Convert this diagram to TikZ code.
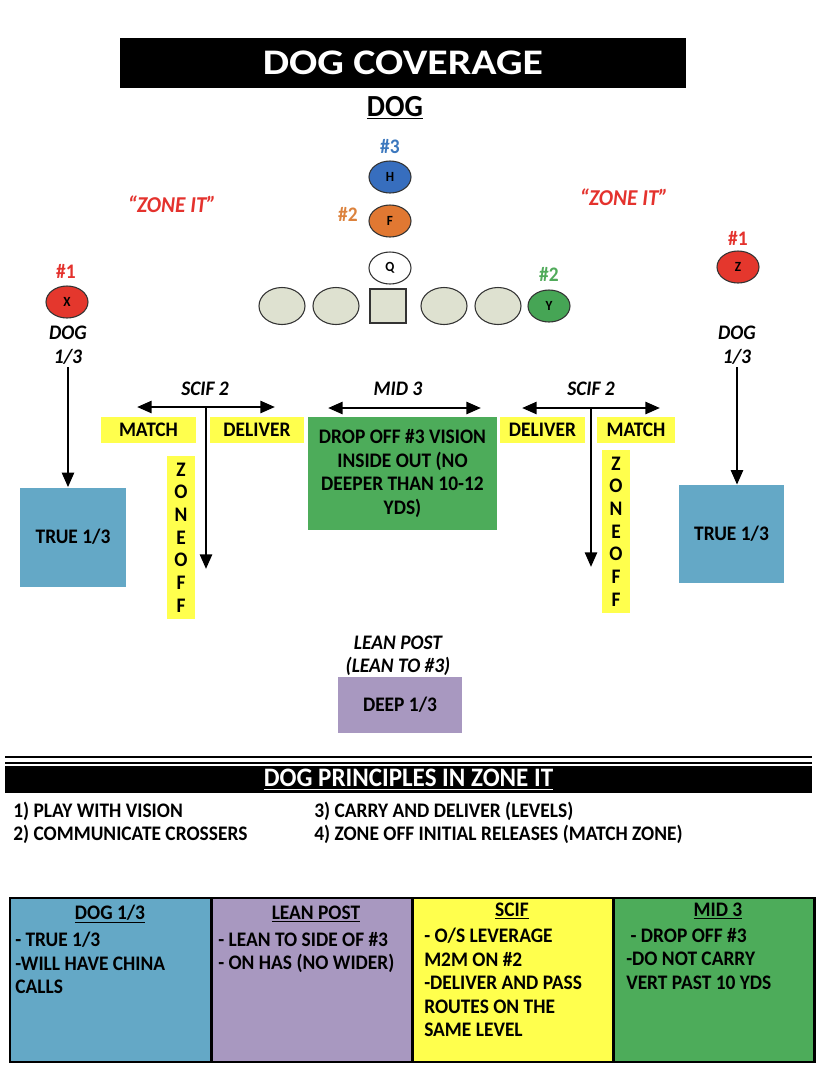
\documentclass[tikz,border=0pt]{standalone}
\usepackage{fontspec}
\setmainfont{Carlito}[FakeStretch=0.94]
\newfontfamily\titlefont{Carlito}[FakeStretch=1.16]
\usetikzlibrary{arrows.meta,shapes.geometric}
\definecolor{boxblue}{RGB}{100,168,198}
\definecolor{boxpurple}{RGB}{168,152,192}
\definecolor{boxyellow}{RGB}{255,255,77}
\definecolor{boxgreen}{RGB}{77,172,90}
\definecolor{pgreen}{RGB}{70,165,85}
\definecolor{pblue}{RGB}{55,110,190}
\definecolor{porange}{RGB}{225,120,50}
\definecolor{pred}{RGB}{228,55,45}
\definecolor{tred}{RGB}{228,50,45}
\definecolor{tblue}{RGB}{60,120,190}
\definecolor{torange}{RGB}{220,130,60}
\definecolor{tgreen}{RGB}{80,170,90}
\definecolor{olfill}{RGB}{222,225,208}
\begin{document}
\begin{tikzpicture}[x=0.75pt,y=-0.75pt,
  txt/.style={font=\bfseries\fontsize{15.5}{17.6}\selectfont, inner sep=0, align=center},
  itl/.style={font=\bfseries\itshape\fontsize{15.5}{17.5}\selectfont, inner sep=0, align=center},
  player/.style={ellipse, draw=black!80, line width=0.8pt, minimum width=42*0.75pt, minimum height=32*0.75pt, inner sep=0, font=\bfseries\fontsize{10.5}{10.5}\selectfont},
  olman/.style={player, fill=olfill, minimum width=46*0.75pt, minimum height=37*0.75pt},
  arr/.style={line width=2pt, -{Triangle[length=11pt,width=9pt]}},
  darr/.style={line width=2pt, {Triangle[length=11pt,width=9pt]}-{Triangle[length=11pt,width=9pt]}},
  ylab/.style={txt, fill=boxyellow, minimum height=26*0.75pt},
  zoneoff/.style={txt, fill=boxyellow, minimum width=28*0.75pt, font=\bfseries\fontsize{15.5}{17}\selectfont},
  card/.style={draw=black, line width=2.2pt, inner sep=0, minimum width=201*0.75pt, minimum height=164*0.75pt},
  cardtxt/.style={font=\bfseries\fontsize{15.5}{17.6}\selectfont, inner sep=0, align=left, anchor=north west}
]
\useasboundingbox (0,0) rectangle (828,1090);
\fill[white] (0,0) rectangle (828,1090);

% title
\node[fill=black, minimum width=566*0.75pt, minimum height=50*0.75pt, inner sep=0,
  text=white, font=\titlefont\bfseries\fontsize{27}{27}\selectfont] (title) at (403,63) {DOG COVERAGE};
\node[font=\bfseries\fontsize{23}{23}\selectfont, inner sep=0] (sub) at (395,108) {\underline{DOG}};

% backfield
\node[player, fill=pblue] (H) at (390,177) {H};
\node[txt, text=tblue] (n3) at (390,147) {\#3};
\node[player, fill=porange] (F) at (390,221) {F};
\node[txt, text=torange] (n2f) at (348,214) {\#2};
\node[player, fill=white] (Q) at (390,268) {Q};

% line
\node[olman] (l1) at (282,306) {};
\node[olman] (l2) at (336,306) {};
\node[draw=black!80, line width=0.8pt, fill=olfill, minimum width=36*0.75pt, minimum height=34*0.75pt, inner sep=0] (C) at (388,306) {};
\node[olman] (r1) at (444,306) {};
\node[olman] (r2) at (498,306) {};
\node[player, fill=pgreen] (Y) at (549,306) {Y};
\node[txt, text=tgreen] (n2y) at (549,274) {\#2};

% receivers
\node[player, fill=pred] (X) at (67,302) {X};
\node[txt, text=tred] (n1x) at (66,271) {\#1};
\node[player, fill=pred] (Z) at (738,267) {Z};
\node[txt, text=tred] (n1z) at (738,238) {\#1};

\node[itl, text=tred, font=\bfseries\itshape\fontsize{17}{17}\selectfont] (zl) at (172,204) {``ZONE IT''};
\node[itl, text=tred, font=\bfseries\itshape\fontsize{17}{17}\selectfont] (zr) at (624,197) {``ZONE IT''};

% dog 1/3
\node[itl, anchor=north] (dogL) at (68,326) {DOG\\1/3};
\node[itl, anchor=north] (dogR) at (737,326) {DOG\\1/3};
\node[txt, fill=boxblue, minimum width=106*0.75pt, minimum height=99*0.75pt] (trueL) at (73,537) {TRUE 1/3};
\node[txt, fill=boxblue, minimum width=105*0.75pt, minimum height=98*0.75pt] (trueR) at (731.5,534) {TRUE 1/3};
\draw[arr] (dogL.south) ++(0,3) coordinate (dLs) (dLs) -- (dLs |- trueL.north);
\draw[arr] (dogR.south) ++(0,3) coordinate (dRs) (dRs) -- (dRs |- trueR.north);

% left SCIF
\node[itl] (scifL) at (205,389) {SCIF 2};
\coordinate (sLa) at (137,407);
\coordinate (sLb) at (275,407);
\coordinate (sLc) at (206,407);
\coordinate (sLd) at (206,569);
\draw[darr] (sLa) -- (sLb);
\draw[arr] (sLc) -- (sLd);
\node[ylab, minimum width=95*0.75pt] (matchL) at (148.5,430) {MATCH};
\node[ylab, minimum width=94*0.75pt] (delivL) at (257,430) {DELIVER};
\node[zoneoff, minimum height=163*0.75pt] (zoL) at (181,537.5) {Z\\O\\N\\E\\O\\F\\F};

% mid 3
\node[itl] (mid) at (398,389) {MID 3};
\coordinate (mA) at (328,408);
\coordinate (mB) at (481,408);
\draw[darr] (mA) -- (mB);
\node[txt, fill=boxgreen, minimum width=189*0.75pt, minimum height=113*0.75pt] (green) at (402.5,473.5)
  {DROP OFF \#3 VISION\\INSIDE OUT (NO\\DEEPER THAN 10-12\\YDS)};

% right SCIF
\node[itl] (scifR) at (591,389) {SCIF 2};
\coordinate (sRa) at (522,408);
\coordinate (sRb) at (660,408);
\coordinate (sRc) at (591,408);
\coordinate (sRd) at (591,567);
\draw[darr] (sRa) -- (sRb);
\draw[arr] (sRc) -- (sRd);
\node[ylab, minimum width=85*0.75pt] (delivR) at (542.5,429.5) {DELIVER};
\node[ylab, minimum width=78*0.75pt] (matchR) at (636,429.5) {MATCH};
\node[zoneoff, minimum height=163*0.75pt] (zoR) at (616,531.5) {Z\\O\\N\\E\\O\\F\\F};

% lean post
\node[itl] (lean) at (398,656) {LEAN POST\\(LEAN TO \#3)};
\node[txt, fill=boxpurple, minimum width=124*0.75pt, minimum height=56*0.75pt] (deep) at (400,705) {DEEP 1/3};

% separator
\coordinate (s1a) at (5,757); \coordinate (s1b) at (812,757);
\coordinate (s2a) at (5,763); \coordinate (s2b) at (812,763);
\draw[line width=2.2pt] (s1a) -- (s1b);
\draw[line width=2.2pt] (s2a) -- (s2b);
\node[fill=black, minimum width=807*0.75pt, minimum height=27*0.75pt, inner sep=0, text=white,
  font=\bfseries\fontsize{20}{20}\selectfont] (pbar) at (408.5,779.5) {\underline{DOG PRINCIPLES IN ZONE IT}};

\node[txt, align=left, anchor=north west, font=\bfseries\fontsize{15.5}{17}\selectfont] (p1) at (13,802) {1) PLAY WITH VISION\\2) COMMUNICATE CROSSERS};
\node[txt, align=left, anchor=north west, font=\bfseries\fontsize{15.5}{17}\selectfont] (p2) at (314,802) {3) CARRY AND DELIVER (LEVELS)\\4) ZONE OFF INITIAL RELEASES (MATCH ZONE)};

% cards
\node[card, fill=boxblue] (c1) at (110.5,980) {};
\node[card, fill=boxpurple] (c2) at (312,980) {};
\node[card, fill=boxyellow] (c3) at (513.5,980) {};
\node[card, fill=boxgreen] (c4) at (714,980) {};

\node[txt] (h1) at (110,914) {\underline{DOG 1/3}};
\node[txt] (h2) at (316,914) {\underline{LEAN POST}};
\node[txt] (h3) at (512,911) {\underline{SCIF}};
\node[txt] (h4) at (718,911) {\underline{MID 3}};

\node[cardtxt] (t1) at (15,932) {- TRUE 1/3\\-WILL HAVE CHINA\\CALLS};
\node[cardtxt] (t2) at (218,932) {- LEAN TO SIDE OF \#3\\- ON HAS (NO WIDER)};
\node[cardtxt] (t3) at (424,928) {- O/S LEVERAGE\\M2M ON \#2\\-DELIVER AND PASS\\ROUTES ON THE\\SAME LEVEL};
\node[cardtxt] (t4) at (626,928) {\ - DROP OFF \#3\\-DO NOT CARRY\\VERT PAST 10 YDS};
\end{tikzpicture}
\end{document}
